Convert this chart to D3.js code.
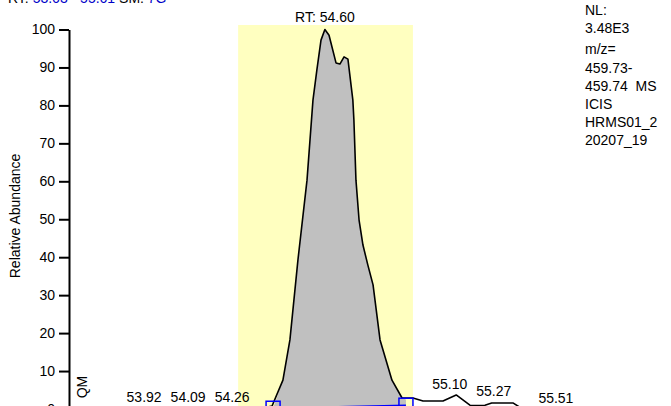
<!DOCTYPE html>
<meta charset="utf-8">
<body style="margin:0;background:#fff">
<script src="https://d3js.org/d3.v7.min.js"></script>
<script>

// chromatogram trace (retention time in min, relative abundance in %)
const rt = [53.63, 53.68, 53.73, 53.78, 53.83, 53.87, 53.92, 53.97, 54.02, 54.06,
            54.09, 54.13, 54.18, 54.22, 54.26, 54.30, 54.34, 54.38, 54.414, 54.456,
            54.483, 54.514, 54.549, 54.572, 54.587, 54.603, 54.618, 54.634, 54.661, 54.676,
            54.692, 54.707, 54.726, 54.730, 54.738, 54.750, 54.765, 54.784, 54.804, 54.831,
            54.877, 54.916, 54.958, 54.997, 55.074, 55.125, 55.178, 55.20, 55.236, 55.262,
            55.30, 55.344, 55.37, 55.42, 55.47, 55.51, 55.56, 55.61];
const abundance = [0.1, 0.0, 0.1, 0.0, 0.1, 0.0, 0.3, 0.0, 0.1, 0.0,
                   0.3, 0.0, 0.1, 0.0, 0.3, 0.1, 0.0, 0.2, 0.8, 7.6,
                   18.2, 39.3, 60.3, 81.4, 89.3, 97.2, 100, 98.5, 91.2, 90.9,
                   92.8, 92.2, 81.4, 76.2, 60.3, 49.8, 43.2, 37.9, 32.7, 18.2,
                   7.6, 2.9, 2.9, 2.1, 2.1, 3.7, 1.0, 0.9, 1.0, 1.6,
                   1.6, 1.6, 0.5, 0.1, 0.0, 0.1, 0.0, 0.0];

// labelled peaks
const peakRT = [53.92, 54.09, 54.26, 55.10, 55.27, 55.51];
const peakRA = [0.3, 0.3, 0.3, 3.7, 1.8, 0.1];
const mainPeakLabel = "RT: 54.60";

// integration: start / end of the detected peak and highlighted window
const peakStart = [54.418, 0.2];
const peakEnd = [54.931, 1.0];
const highlight = [54.283, 54.958];

const yTicks = [0, 10, 20, 30, 40, 50, 60, 70, 80, 90, 100];
const rangeText = ["53.63", "55.61"];
const smoothText = "7G";
const infoLines = ["NL:", "3.48E3", "m/z=", "459.73-", "459.74  MS", "ICIS", "HRMS01_2", "20207_19"];

const W = 671, H = 406;
const font = "'Liberation Sans', Arial, sans-serif";

const x = d3.scaleLinear().domain([53.63, 55.61]).range([69, 581.8]);
const y = d3.scaleLinear().domain([0, 100]).range([409, 29.5]);

const svg = d3.select("body").append("svg")
    .attr("width", W)
    .attr("height", H)
    .style("font-family", font)
    .style("display", "block");

const data = rt.map((t, i) => ({t: t, v: abundance[i]}));

// header line, mostly cut off at the top
const head = svg.append("text")
    .attr("x", 8)
    .attr("y", 3)
    .attr("font-size", 14);
head.append("tspan").attr("fill", "#000").text("RT: ");
head.append("tspan").attr("fill", "#0000c8").text(rangeText[0] + " - " + rangeText[1]);
head.append("tspan").attr("fill", "#000").text("   SM: ");
head.append("tspan").attr("fill", "#0000c8").text(smoothText);

// highlighted window
svg.append("rect")
    .attr("x", x(highlight[0]))
    .attr("y", 25)
    .attr("width", x(highlight[1]) - x(highlight[0]))
    .attr("height", H - 25)
    .attr("fill", "#ffffc0");

// filled integrated area
const base = d3.scaleLinear().domain([peakStart[0], peakEnd[0]]).range([peakStart[1], peakEnd[1]]);
const areaPts = [{t: peakStart[0], v: peakStart[1]}]
    .concat(data.filter(d => d.t > peakStart[0] && d.t < peakEnd[0]))
    .concat([{t: peakEnd[0], v: peakEnd[1] + 1.5}]);

svg.append("path")
    .datum(areaPts)
    .attr("fill", "#c0c0c0")
    .attr("d", d3.area()
        .x(d => x(d.t))
        .y0(d => y(base(d.t)))
        .y1(d => y(d.v)));

// trace
svg.append("path")
    .datum(data)
    .attr("fill", "none")
    .attr("stroke", "#000")
    .attr("stroke-width", 1.6)
    .attr("stroke-linejoin", "round")
    .attr("d", d3.line().x(d => x(d.t)).y(d => y(d.v)));

// baseline and peak markers
svg.append("line")
    .attr("x1", x(peakStart[0])).attr("y1", y(peakStart[1]))
    .attr("x2", x(peakEnd[0])).attr("y2", y(peakEnd[1]))
    .attr("stroke", "#0000ff")
    .attr("stroke-width", 1.5);

svg.selectAll(".mark")
    .data([peakStart, peakEnd])
    .join("rect")
    .attr("class", "mark")
    .attr("x", d => x(d[0]) - 7)
    .attr("y", d => y(d[1]) - 7)
    .attr("width", 14)
    .attr("height", 14)
    .attr("fill", "none")
    .attr("stroke", "#0000ff")
    .attr("stroke-width", 1.5);

// y axis
const yAxis = svg.append("g")
    .attr("transform", "translate(69,0)")
    .call(d3.axisLeft(y).tickValues(yTicks).tickSize(10).tickSizeOuter(0).tickPadding(4));
yAxis.select(".domain").attr("stroke-width", 2);
yAxis.selectAll(".tick line").attr("stroke-width", 2);
yAxis.selectAll("text")
    .attr("font-family", font)
    .attr("font-size", 14)
    .attr("fill", "#000");

svg.append("text")
    .attr("transform", "translate(20,216) rotate(-90)")
    .attr("text-anchor", "middle")
    .attr("font-size", 14)
    .text("Relative Abundance");

svg.append("text")
    .attr("transform", "translate(87,387) rotate(-90)")
    .attr("text-anchor", "middle")
    .attr("font-size", 14)
    .text("QM");

// peak labels
svg.selectAll(".plab")
    .data(peakRT)
    .join("text")
    .attr("class", "plab")
    .attr("x", d => x(d))
    .attr("y", (d, i) => y(peakRA[i]) - 6)
    .attr("text-anchor", "middle")
    .attr("font-size", 14)
    .text(d => d.toFixed(2));

const apex = data.reduce((a, b) => (b.v > a.v ? b : a));
svg.append("text")
    .attr("x", x(apex.t))
    .attr("y", y(apex.v) - 7.5)
    .attr("text-anchor", "middle")
    .attr("font-size", 14)
    .text(mainPeakLabel);

// info block at right
svg.selectAll(".info")
    .data(infoLines)
    .join("text")
    .attr("class", "info")
    .attr("x", 585)
    .attr("y", (d, i) => 15 + i * 18.2 + (i >= 2 ? 3 : 0))
    .attr("font-size", 14)
    .attr("xml:space", "preserve")
    .style("white-space", "pre")
    .text(d => d);

</script>
